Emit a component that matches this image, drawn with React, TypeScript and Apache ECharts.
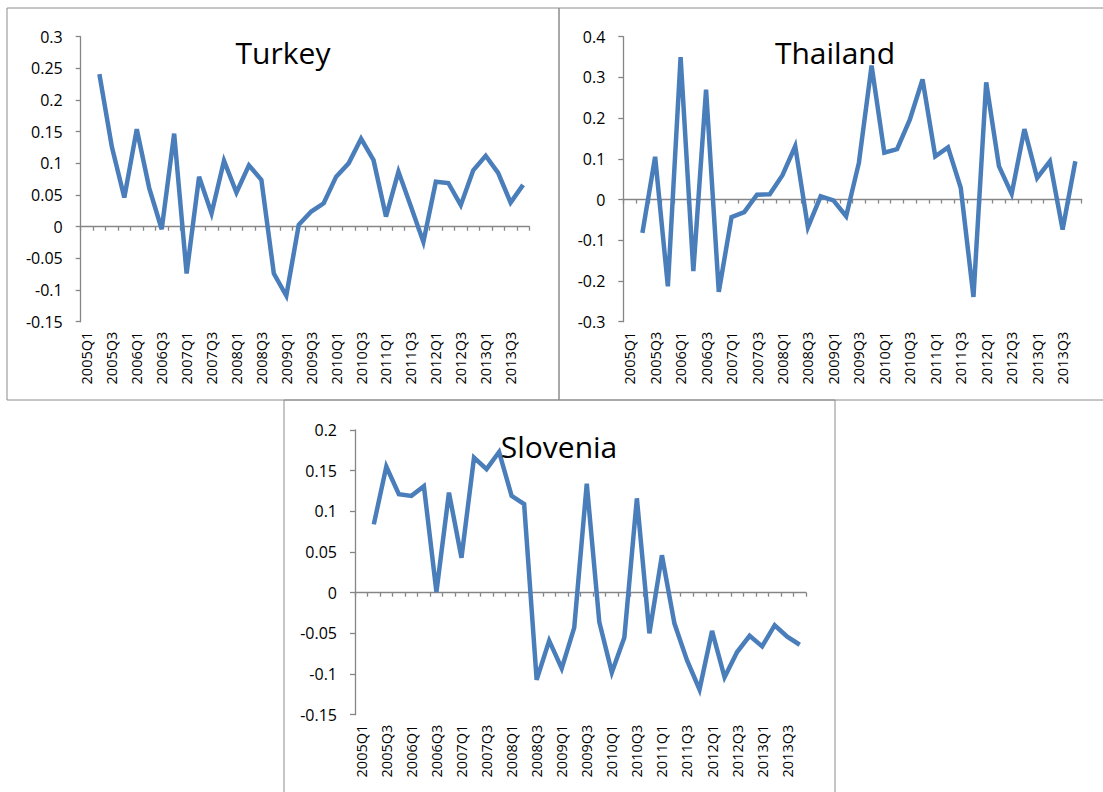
import React, { useEffect, useRef } from "react";
import * as echarts from "echarts";

const quarters: string[] = [];
for (let y = 2005; y <= 2013; y++) {
  for (let q = 1; q <= 4; q++) quarters.push(`${y}Q${q}`);
}

const turkey: (number | null)[] = [
  null, 0.241, 0.126, 0.046, 0.154, 0.061, -0.004, 0.147, -0.074, 0.079, 0.021, 0.104,
  0.054, 0.097, 0.074, -0.074, -0.109, 0.003, 0.024, 0.037, 0.079, 0.100, 0.139, 0.105,
  0.016, 0.087, 0.032, -0.024, 0.071, 0.069, 0.034, 0.089, 0.112, 0.085, 0.038, 0.066,
];

const thailand: (number | null)[] = [
  null, -0.082, 0.105, -0.213, 0.350, -0.176, 0.270, -0.227, -0.043, -0.031, 0.012, 0.013,
  0.060, 0.131, -0.068, 0.008, -0.002, -0.041, 0.090, 0.329, 0.115, 0.124, 0.196, 0.295,
  0.106, 0.128, 0.029, -0.239, 0.288, 0.082, 0.014, 0.173, 0.053, 0.094, -0.074, 0.094,
];

const slovenia: (number | null)[] = [
  null, 0.084, 0.155, 0.121, 0.119, 0.131, 0.001, 0.123, 0.043, 0.166, 0.152, 0.173,
  0.119, 0.109, -0.107, -0.059, -0.093, -0.043, 0.134, -0.036, -0.098, -0.055, 0.116, -0.050,
  0.046, -0.038, -0.083, -0.119, -0.047, -0.104, -0.073, -0.053, -0.066, -0.040, -0.054, -0.064,
];

const panels = [
  { name: "Turkey", data: turkey, min: -0.15, max: 0.3, interval: 0.05 },
  { name: "Thailand", data: thailand, min: -0.3, max: 0.4, interval: 0.1 },
  { name: "Slovenia", data: slovenia, min: -0.15, max: 0.2, interval: 0.05 },
];

const FONT = '"Open Sans", "Liberation Sans", sans-serif';
const AXIS = "#868686";
const LINE = "#4a7ebb";

export default function App() {
  const ref = useRef<HTMLDivElement>(null);
  useEffect(() => {
    if (!ref.current) return;
    const chart = echarts.init(ref.current, undefined, { renderer: "svg" });

    const grids = [
      { left: 80.7, top: 36.7, width: 448.6, height: 285 },
      { left: 623.3, top: 36.7, width: 458.4, height: 285 },
      { left: 355, top: 430, width: 451, height: 284.7 },
    ];
    const titlePos = [
      { x: 283, y: 52 },
      { x: 835, y: 52 },
      { x: 559, y: 446 },
    ];

    const xAxis: any[] = [];
    const yAxis: any[] = [];
    const series: any[] = [];
    panels.forEach((p, i) => {
      xAxis.push({
        type: "category",
        gridIndex: i,
        data: quarters,
        boundaryGap: true,
        axisLine: { onZero: true, lineStyle: { color: AXIS, width: 1.3 } },
        axisTick: { show: true, interval: 0, length: 4, lineStyle: { color: AXIS, width: 1.3 } },
        axisLabel: { show: false },
        splitLine: { show: false },
      });
      xAxis.push({
        type: "category",
        gridIndex: i,
        data: quarters,
        position: "bottom",
        boundaryGap: true,
        axisLine: { show: false, onZero: false },
        axisTick: { show: false },
        axisLabel: {
          show: true,
          interval: 1,
          rotate: 90,
          margin: 10,
          color: "#000",
          fontFamily: FONT,
          fontSize: 14.5,
        },
        splitLine: { show: false },
      });
      yAxis.push({
        type: "value",
        gridIndex: i,
        min: p.min,
        max: p.max,
        interval: p.interval,
        axisLine: { show: true, lineStyle: { color: AXIS, width: 1.3 } },
        axisTick: { show: true, length: 5, lineStyle: { color: AXIS, width: 1.3 } },
        axisLabel: {
          color: "#000",
          fontFamily: FONT,
          fontSize: 16,
          margin: 18,
          formatter: (v: number) => String(Math.round(v * 100) / 100),
        },
        splitLine: { show: false },
      });
      series.push({
        type: "line",
        name: p.name,
        xAxisIndex: i * 2,
        yAxisIndex: i,
        data: p.data,
        showSymbol: false,
        symbol: "none",
        connectNulls: false,
        lineStyle: { color: LINE, width: 4.5, join: "miter" },
        z: 3,
      });
    });

    const graphic: any[] = [
      { type: "rect", shape: { x: 7, y: 8, width: 552, height: 392 }, style: { fill: "none", stroke: "#8c8c8c", lineWidth: 1 }, silent: true },
      { type: "rect", shape: { x: 559, y: 8, width: 550, height: 392 }, style: { fill: "none", stroke: "#8c8c8c", lineWidth: 1 }, silent: true },
      { type: "rect", shape: { x: 284, y: 400, width: 551, height: 400 }, style: { fill: "none", stroke: "#8c8c8c", lineWidth: 1 }, silent: true },
    ];
    panels.forEach((p, i) => {
      graphic.push({
        type: "text",
        x: titlePos[i].x,
        y: titlePos[i].y,
        z: 10,
        style: {
          text: p.name,
          font: `30px ${FONT}`,
          textAlign: "center",
          textVerticalAlign: "middle",
          fill: "#000",
        },
      });
    });

    chart.setOption({
      animation: false,
      backgroundColor: "#fff",
      grid: grids,
      xAxis,
      yAxis,
      series,
      graphic,
    });
    return () => chart.dispose();
  }, []);

  return (
    <div
      ref={ref}
      style={{ position: "fixed", left: 0, top: 0, width: 1103, height: 792, background: "#fff" }}
    />
  );
}
